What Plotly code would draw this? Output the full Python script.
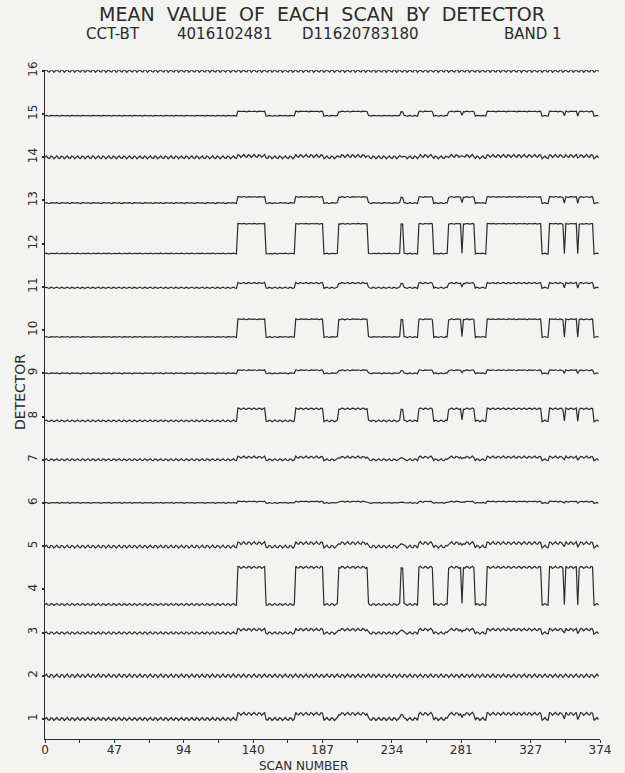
import plotly.graph_objects as go

# Scan range and detector set
N_SCANS = 374
LAST_SCAN = 373
DETECTORS = list(range(1, 17))

# Scans during which the bright target is in view (start inclusive, end exclusive)
HIGH_START = [130, 169, 198, 240, 252, 272, 298, 340]
HIGH_END = [149, 188, 218, 242, 262, 290, 335, 370]
# Single scans that drop back to the dark level inside a bright stretch
DIP_SCANS = [281, 350, 359]

# Plotted level of each detector (1..16) on dark and bright scans
LOW_LEVEL = [1.00, 2.00, 2.99, 3.65, 4.99, 6.00, 7.00, 7.90,
             9.00, 9.84, 10.98, 11.77, 12.94, 14.00, 14.96, 16.00]
HIGH_LEVEL = [1.12, 2.00, 3.07, 4.51, 5.07, 6.03, 7.06, 8.18,
              9.07, 10.25, 11.09, 12.46, 13.08, 14.03, 15.06, 16.00]

# Scan-to-scan ripple size of each detector and its 7-scan shape
RIPPLE_AMP = [0.035, 0.04, 0.03, 0.025, 0.035, 0.012, 0.025, 0.02,
              0.012, 0.012, 0.015, 0.01, 0.012, 0.035, 0.01, 0.035]
RIPPLE_SHAPE = [0.0, 0.97, -0.43, -0.78, 0.78, 0.43, -0.97]

# Axis labels
X_TICK_VALUES = [0, 46.75, 93.5, 140.25, 187, 233.75, 280.5, 327.25, 374]
X_TICK_TEXT = ["0", "47", "94", "140", "187", "234", "281", "327", "374"]

TITLE = "MEAN VALUE OF EACH SCAN BY DETECTOR"
SUBTITLE_PARTS = ["CCT-BT", "4016102481", "D11620783180", "BAND 1"]

INK = "#2b2b2b"
PAPER = "#f3f3f1"
FONT = "DejaVu Sans"

W, H = 625, 773
M_L, M_R, M_T, M_B = 45, 25, 70, 34

scans = list(range(0, LAST_SCAN + 1))


def bright(scan):
    if scan in DIP_SCANS:
        return False
    return any(a <= scan < b for a, b in zip(HIGH_START, HIGH_END))


fig = go.Figure()
for i, det in enumerate(DETECTORS):
    lo, hi, amp = LOW_LEVEL[i], HIGH_LEVEL[i], RIPPLE_AMP[i]
    ys = []
    for s in scans:
        level = hi if bright(s) else lo
        ys.append(level + amp * RIPPLE_SHAPE[s % len(RIPPLE_SHAPE)])
    fig.add_trace(go.Scatter(
        x=scans, y=ys, mode="lines",
        line=dict(color=INK, width=1.2),
        name=f"Detector {det}", showlegend=False, hoverinfo="skip",
    ))

# Major ticks carry labels, minor ticks halfway between them
x_tickvals = []
x_ticktext = []
for k, v in enumerate(X_TICK_VALUES):
    x_tickvals.append(v)
    x_ticktext.append(X_TICK_TEXT[k])
    if k < len(X_TICK_VALUES) - 1:
        x_tickvals.append((v + X_TICK_VALUES[k + 1]) / 2)
        x_ticktext.append("")

fig.update_layout(
    width=W, height=H,
    margin=dict(l=M_L, r=M_R, t=M_T, b=M_B),
    paper_bgcolor=PAPER, plot_bgcolor=PAPER,
    font=dict(family=FONT, color=INK),
    xaxis=dict(
        range=[0, N_SCANS], showgrid=False, zeroline=False,
        showline=True, linecolor=INK, linewidth=1.2,
        tickmode="array", tickvals=x_tickvals, ticktext=x_ticktext,
        ticks="outside", ticklen=3, tickwidth=1.2, tickcolor=INK,
        ticklabelstandoff=-4,
        tickfont=dict(size=12, color=INK),
    ),
    yaxis=dict(
        range=[0.537, 16.02], showgrid=False, zeroline=False,
        showline=True, linecolor=INK, linewidth=1.2,
        tickmode="array", tickvals=DETECTORS,
        ticktext=[str(d) for d in DETECTORS],
        ticks="outside", ticklen=2, tickwidth=1.5, tickcolor=INK,
        tickangle=-90, tickfont=dict(size=12, color=INK),
    ),
)

# Wide word spacing for the plotter-style heading
title_text = "\u00a0\u00a0".join(TITLE.split(" "))

# Text placed in page pixels (x from left, y from top)
texts = [
    dict(text=title_text, x=322, y=14, size=19, anchor="center", angle=0),
    dict(text=SUBTITLE_PARTS[0], x=84, y=34, size=15, anchor="left", angle=0),
    dict(text=SUBTITLE_PARTS[1], x=175, y=34, size=15, anchor="left", angle=0),
    dict(text=SUBTITLE_PARTS[2], x=300, y=34, size=15, anchor="left", angle=0),
    dict(text=SUBTITLE_PARTS[3], x=502, y=34, size=15, anchor="left", angle=0),
    dict(text="SCAN NUMBER", x=303, y=765.5, size=12, anchor="center", angle=0),
    dict(text="DETECTOR", x=20, y=392, size=14, anchor="center", angle=-90),
]

plot_w = W - M_L - M_R
plot_h = H - M_T - M_B
for t in texts:
    fig.add_annotation(
        text=t["text"],
        x=(t["x"] - M_L) / plot_w, y=1 - (t["y"] - M_T) / plot_h,
        xref="paper", yref="paper", xanchor=t["anchor"], yanchor="middle",
        showarrow=False, textangle=t["angle"],
        font=dict(family=FONT, color=INK, size=t["size"]),
    )

fig.write_html("out.html")
